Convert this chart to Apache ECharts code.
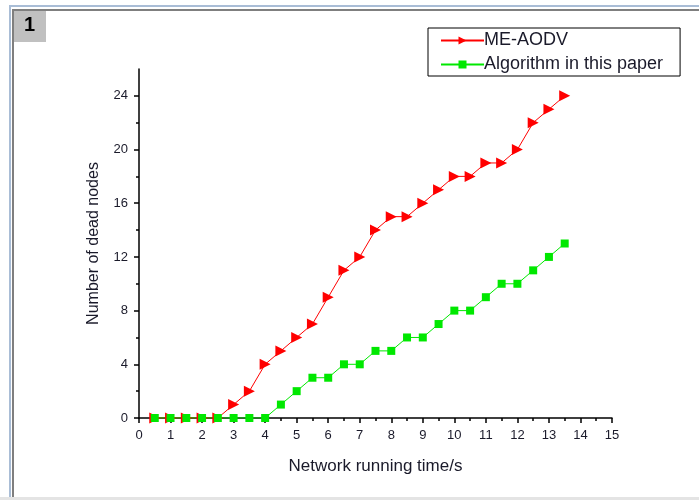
<!DOCTYPE html>
<html>
<head>
<meta charset="utf-8">
<script src="https://cdn.jsdelivr.net/npm/echarts@6/dist/echarts.min.js"></script>
<style>
  html, body { margin: 0; padding: 0; background: #fff; }
  #chart { width: 699px; height: 500px; }
</style>
</head>
<body>
<div id="chart"></div>
<script>
// time points (s)
const times = [0.5, 1, 1.5, 2, 2.5, 3, 3.5, 4, 4.5, 5, 5.5, 6, 6.5, 7, 7.5,
  8, 8.5, 9, 9.5, 10, 10.5, 11, 11.5, 12, 12.5, 13, 13.5]
const meAodv = [0, 0, 0, 0, 0, 1, 2, 4, 5, 6, 7, 9, 11, 12, 14,
  15, 15, 16, 17, 18, 18, 19, 19, 20, 22, 23, 24]
const ourAlgorithm = [0, 0, 0, 0, 0, 0, 0, 0, 1, 2, 3, 3, 4, 4, 5,
  5, 6, 6, 7, 8, 8, 9, 10, 10, 11, 12, 13]
const yMajorTicks = [0, 4, 8, 12, 16, 20, 24]
const yMinorTicks = [2, 6, 10, 14, 18, 22]

const chart = echarts.init(document.getElementById('chart'))
const font = 'Liberation Sans, Arial, sans-serif'
const textColor = '#1a1a2a'

const pair = (vals) => vals.map((v, i) => [times[i], v])

const option = {
  animation: false,
  backgroundColor: '#fff',
  graphic: [
    // window frame
    { type: 'rect', shape: { x: 9, y: 5, width: 700, height: 2 }, style: { fill: '#a9bdd6' } },
    { type: 'rect', shape: { x: 9, y: 5, width: 2, height: 495 }, style: { fill: '#a9bdd6' } },
    { type: 'rect', shape: { x: 12, y: 9, width: 700, height: 2 }, style: { fill: '#7f7f7f' } },
    { type: 'rect', shape: { x: 12, y: 9, width: 2, height: 490 }, style: { fill: '#7f7f7f' } },
    { type: 'rect', shape: { x: 0, y: 497, width: 699, height: 3 }, style: { fill: '#e4e4e4' } },
    { type: 'rect', shape: { x: 14, y: 11, width: 32, height: 31 }, style: { fill: '#c0c0c0' } },
    { type: 'text', left: 24, top: 15, style: { text: '1', font: 'bold 20px ' + font, fill: '#000' } }
  ],
  legend: {
    orient: 'vertical',
    left: 428,
    top: 28,
    borderColor: '#000',
    borderWidth: 1,
    padding: [2, 17, 1, 12],
    itemGap: 3,
    itemWidth: 43,
    itemHeight: 10,
    textStyle: { fontFamily: font, fontSize: 18, lineHeight: 21, color: textColor, padding: [0, 0, 0, -5] },
    data: ['ME-AODV', 'Algorithm in this paper']
  },
  grid: { left: 139, right: 87, top: 69, bottom: 82 },
  xAxis: {
    type: 'value',
    min: 0,
    max: 15,
    interval: 1,
    name: 'Network running time/s',
    nameLocation: 'middle',
    nameGap: 40,
    nameTextStyle: { fontFamily: font, fontSize: 17, color: textColor },
    axisLine: { onZero: false, lineStyle: { color: '#000', width: 1.5 } },
    axisTick: { length: 5, lineStyle: { color: '#000', width: 1.5 } },
    minorTick: { show: true, splitNumber: 2, length: 3, lineStyle: { color: '#000', width: 1.5 } },
    axisLabel: { fontFamily: font, fontSize: 13, color: textColor, margin: 11 },
    splitLine: { show: false }
  },
  yAxis: [
    {
      type: 'value',
      min: 0,
      max: 26,
      name: 'Number of dead nodes',
      nameLocation: 'middle',
      nameGap: 37,
      nameTextStyle: { fontFamily: font, fontSize: 16, color: textColor },
      axisLine: { show: true, lineStyle: { color: '#000', width: 1.5 } },
      axisTick: { show: true, length: 5, customValues: yMajorTicks, lineStyle: { color: '#000', width: 1.5 } },
      axisLabel: { fontFamily: font, fontSize: 13, color: textColor, margin: 11, customValues: yMajorTicks },
      splitLine: { show: false }
    },
    {
      type: 'value',
      min: 0,
      max: 26,
      position: 'left',
      axisLine: { show: false },
      axisTick: { show: true, length: 3, customValues: yMinorTicks, lineStyle: { color: '#000', width: 1.5 } },
      axisLabel: { show: false },
      splitLine: { show: false }
    }
  ],
  series: [
    {
      name: 'ME-AODV',
      type: 'line',
      data: pair(meAodv),
      symbol: 'triangle',
      symbolRotate: -90,
      symbolSize: 11,
      itemStyle: { color: '#ff0000' },
      lineStyle: { color: '#ff0000', width: 1 }
    },
    {
      name: 'Algorithm in this paper',
      type: 'line',
      data: pair(ourAlgorithm),
      symbol: 'rect',
      symbolSize: 8,
      itemStyle: { color: '#00e800' },
      lineStyle: { color: '#00e800', width: 1 }
    }
  ]
}

chart.setOption(option)
</script>
</body>
</html>
